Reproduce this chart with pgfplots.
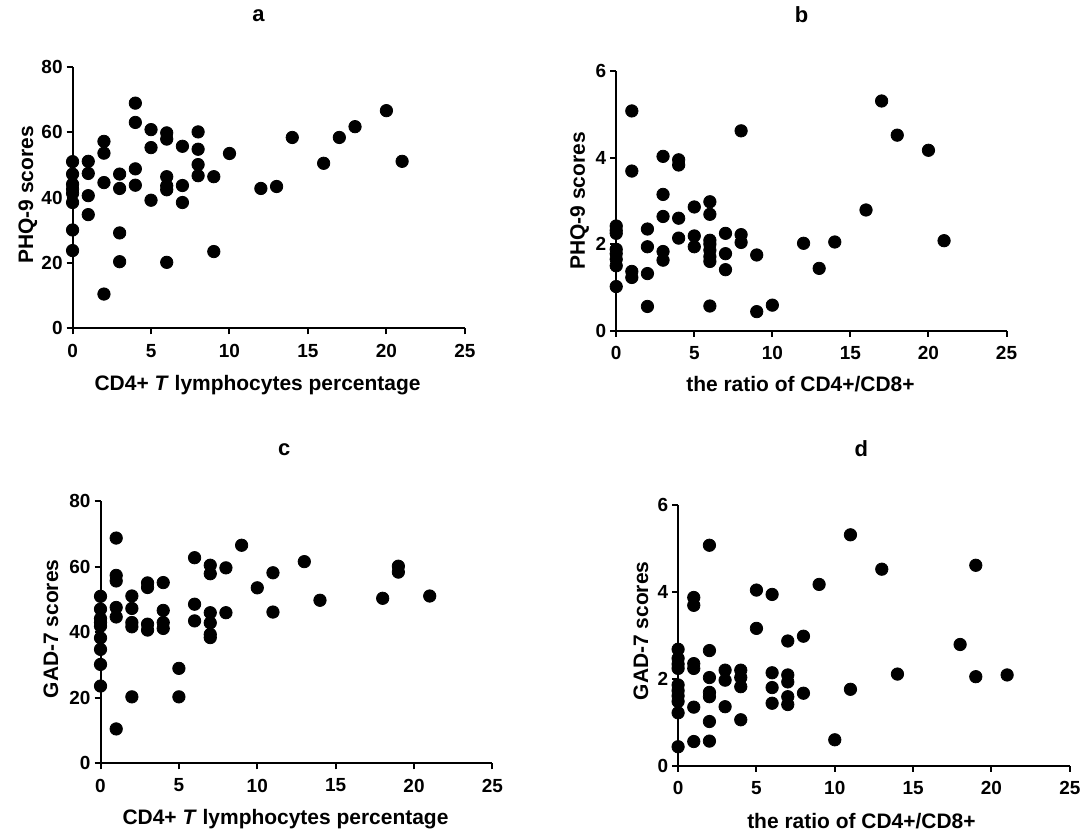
\documentclass[border=0pt]{standalone}
\usepackage{fontspec}
\setmainfont{Liberation Sans}
\usepackage{pgfplots}
\pgfplotsset{compat=1.18}

\pgfplotsset{
  panel/.style={
    scale only axis,
    anchor=south west,
    axis lines=left,
    axis line style={line width=1pt, -},
    xmin=0, xmax=25, xtick={0,5,...,25},
    ymin=0,
    enlargelimits=false,
    clip=false,
    tick align=outside,
    major tick length=3pt,
    every tick/.style={black, line width=1pt},
    tick label style={font=\fontsize{9.5}{11}\selectfont\bfseries},
    xticklabel style={inner ysep=4.6pt},
    yticklabel style={inner xsep=1.8pt},
    /pgf/number format/assume math mode=true,
    label style={font=\fontsize{10.5}{12}\selectfont\bfseries},
    title style={font=\fontsize{11}{13}\selectfont\bfseries, anchor=base},
  },
  dots/.style={only marks, mark=*, mark size=3.1pt, black,
    mark options={fill=black, draw=black}},
}

\begin{document}
\begin{tikzpicture}
\path (0,0) rectangle (543.5pt,413pt);

% a
\begin{axis}[panel, at={(36.35pt,252.5pt)}, width=196.5pt, height=131pt,
  ymax=80, ytick={0,20,...,80},
  title={a}, title style={at={(axis description cs:0.474,1.127)}},
  xlabel={CD4+ \textit{T} lymphocytes percentage},
  xlabel style={at={(axis description cs:0.4715,-0.2366)}, anchor=base},
  ylabel={PHQ-9 scores},
  ylabel style={at={(axis description cs:-0.1003,0.51)}, anchor=base}]
\addplot[dots] coordinates {
 (0,51) (0,47.2) (0,44.1) (0,42.6) (0,41.3) (0,38.5) (0,30.1) (0,23.8)
 (1,51.1) (1,47.4) (1,40.6) (1,34.8)
 (2,57.2) (2,53.6) (2,44.6) (2,10.5)
 (3,47.2) (3,42.8) (3,29.2) (3,20.4)
 (4,68.9) (4,63.0) (4,48.8) (4,43.8)
 (5,60.8) (5,55.3) (5,39.2)
 (6,59.8) (6,57.9) (6,46.4) (6,43.6) (6,42.4) (6,20.2)
 (7,55.7) (7,43.7) (7,38.5)
 (8,60.1) (8,54.8) (8,50.1) (8,46.7)
 (9,46.4) (9,23.5)
 (10,53.5) (12,42.8) (13,43.4) (14,58.4) (16,50.5)
 (17,58.4) (18,61.7) (20,66.6) (21,51.1)
};
\end{axis}

% b
\begin{axis}[panel, at={(308.65pt,251.35pt)}, width=195.5pt, height=130pt,
  ymax=6, ytick={0,2,4,6},
  title={b}, title style={at={(axis description cs:0.475,1.141)}},
  xlabel={the ratio of CD4+/CD8+},
  xlabel style={at={(axis description cs:0.472,-0.2346)}, anchor=base},
  ylabel={PHQ-9 scores},
  ylabel style={at={(axis description cs:-0.0803,0.5)}, anchor=base}]
\addplot[dots] coordinates {
 (0,2.42) (0,2.32) (0,2.25) (0,1.88) (0,1.78) (0,1.65) (0,1.5) (0,1.02)
 (1,5.08) (1,3.69) (1,1.37) (1,1.23)
 (2,2.35) (2,1.94) (2,1.32) (2,0.56)
 (3,4.03) (3,3.15) (3,2.64) (3,1.83) (3,1.63)
 (4,3.95) (4,3.83) (4,2.6) (4,2.14)
 (5,2.86) (5,2.19) (5,1.94)
 (6,2.98) (6,2.69) (6,2.09) (6,2.0) (6,1.86) (6,1.71) (6,1.6) (6,0.57)
 (7,2.25) (7,1.78) (7,1.41)
 (8,4.62) (8,2.22) (8,2.04)
 (9,1.75) (9,0.44)
 (10,0.59) (12,2.02) (13,1.44) (14,2.05) (16,2.79)
 (17,5.31) (18,4.52) (20,4.17) (21,2.08)
};
\end{axis}

% c
\begin{axis}[panel, at={(50.35pt,34.65pt)}, width=196.3pt, height=131.2pt,
  ymax=80, ytick={0,20,...,80},
  title={c}, title style={at={(axis description cs:0.469,1.131)}},
  xlabel={CD4+ \textit{T} lymphocytes percentage},
  xlabel style={at={(axis description cs:0.472,-0.2348)}, anchor=base},
  ylabel={GAD-7 scores},
  ylabel style={at={(axis description cs:-0.108,0.513)}, anchor=base}]
\addplot[dots] coordinates {
 (0,51.0) (0,47.1) (0,44.2) (0,43.0) (0,41.9) (0,38.3) (0,34.8) (0,30.2) (0,23.6)
 (1,68.8) (1,57.4) (1,55.7) (1,47.6) (1,44.7) (1,10.5)
 (2,51.1) (2,47.3) (2,43.0) (2,41.7) (2,20.3)
 (3,55.1) (3,53.7) (3,42.5) (3,40.7)
 (4,55.2) (4,46.7) (4,43.0) (4,41.2)
 (5,29.0) (5,20.3)
 (6,62.8) (6,48.6) (6,43.5)
 (7,60.5) (7,57.9) (7,46.0) (7,42.9) (7,39.4) (7,38.4)
 (8,59.7) (8,46.0)
 (9,66.6) (10,53.6) (11,58.2) (11,46.2) (13,61.6) (14,49.8)
 (18,50.4) (19,60.2) (19,58.4) (21,51.1)
};
\end{axis}

% d
\begin{axis}[panel, at={(339.65pt,33.35pt)}, width=196.2pt, height=130.8pt,
  ymax=6, ytick={0,2,4,6},
  title={d}, title style={at={(axis description cs:0.468,1.14)}},
  xlabel={the ratio of CD4+/CD8+},
  xlabel style={at={(axis description cs:0.468,-0.2385)}, anchor=base},
  ylabel={GAD-7 scores},
  ylabel style={at={(axis description cs:-0.0765,0.517)}, anchor=base}]
\addplot[dots] coordinates {
 (0,2.68) (0,2.47) (0,2.34) (0,2.24) (0,1.86) (0,1.73) (0,1.61) (0,1.48) (0,1.22) (0,0.44)
 (1,3.87) (1,3.69) (1,2.35) (1,2.24) (1,1.35) (1,0.56)
 (2,5.07) (2,2.65) (2,2.03) (2,1.69) (2,1.59) (2,1.02) (2,0.57)
 (3,2.20) (3,1.97) (3,1.36)
 (4,2.20) (4,2.03) (4,1.82) (4,1.06)
 (5,4.04) (5,3.16)
 (6,3.94) (6,2.14) (6,1.80) (6,1.44)
 (7,2.87) (7,2.09) (7,1.93) (7,1.59) (7,1.41)
 (8,2.98) (8,1.67)
 (9,4.17) (10,0.60) (11,5.31) (11,1.76) (13,4.52) (14,2.11)
 (18,2.79) (19,4.61) (19,2.05) (21,2.09)
};
\end{axis}
\end{tikzpicture}
\end{document}
